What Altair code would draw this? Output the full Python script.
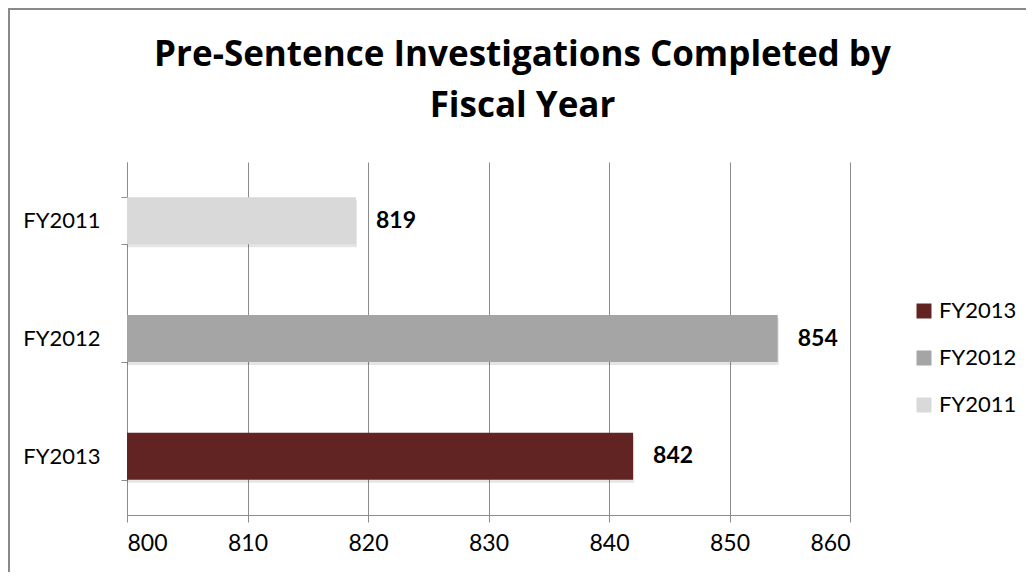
import altair as alt
import pandas as pd

years = ["FY2011", "FY2012", "FY2013"]
values = [819, 854, 842]
legend_order = ["FY2013", "FY2012", "FY2011"]
legend_colors = ["#622423", "#A5A5A5", "#D9D9D9"]
x_ticks = [800, 810, 820, 830, 840, 850, 860]

df = pd.DataFrame({"year": years, "value": values})

FONT = "Lato"
TFONT = "Open Sans"
GRID = "#8C8C8C"

xenc = alt.X("value:Q",
             scale=alt.Scale(domain=[800, 860], zero=False, nice=False),
             axis=alt.Axis(values=x_ticks, title=None, grid=True, gridColor=GRID,
                           domainColor=GRID, tickColor=GRID, tickSize=7,
                           labelFontSize=23, labelFont=FONT, labelColor="#000",
                           labelPadding=10, format="d"))
yenc = alt.Y("year:N", sort=years,
             scale=alt.Scale(paddingInner=0.6, paddingOuter=0.3),
             axis=alt.Axis(title=None, grid=False, domainColor=GRID, tickColor=GRID,
                           tickSize=6, tickBand="extent", labelFontSize=22,
                           labelFont=FONT, labelColor="#000", labelPadding=21))

base = alt.Chart(df)

shadow = base.mark_bar(color="#000000", opacity=0.10, xOffset=1, yOffset=3).encode(
    x=xenc, x2=alt.datum(800), y=yenc)

bars = base.mark_bar().encode(
    x=xenc, x2=alt.datum(800), y=yenc,
    color=alt.Color("year:N",
                    scale=alt.Scale(domain=legend_order, range=legend_colors),
                    legend=alt.Legend(title=None, orient="none", legendX=786, legendY=138,
                                      symbolType="square", symbolSize=225,
                                      symbolStrokeWidth=0, labelFontSize=22,
                                      labelFont=FONT, labelColor="#000",
                                      rowPadding=25, labelOffset=4)))

labels = base.mark_text(align="left", baseline="middle", dx=20, font=FONT,
                        fontSize=23, fontWeight="bold", color="#000").encode(
    x="value:Q", y=alt.Y("year:N", sort=years), text="value:Q")

frame = alt.Chart(df).mark_rect(fill=None, stroke="#8A8A8A", strokeWidth=2).encode(
    x=alt.value(-118), x2=alt.value(950), y=alt.value(-153), y2=alt.value(450))

chart = alt.layer(frame, shadow, bars, labels).properties(
    width=723, height=353,
    padding={"left": 119, "top": 154, "right": 176, "bottom": 57},
    autosize=alt.AutoSizeParams(type="none"),
    title=alt.TitleParams(["Pre-Sentence Investigations Completed by", "Fiscal Year"],
                          font=TFONT, fontSize=35, fontWeight="bold", color="#000",
                          anchor="middle", frame="group", lineHeight=51,
                          offset=-116, dx=34),
).configure_view(stroke=None)

chart.save("out.html", embed_options={"renderer": "svg", "actions": False})
